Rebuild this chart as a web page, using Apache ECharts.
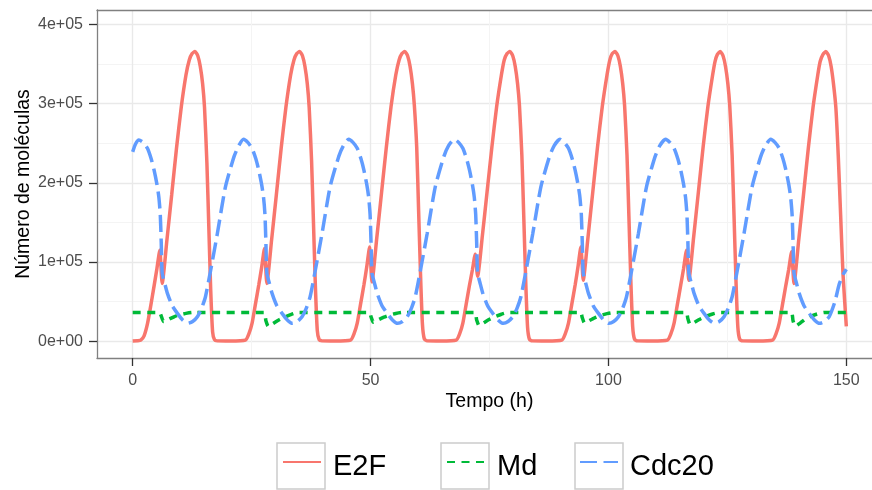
<!DOCTYPE html>
<html><head><meta charset="utf-8">
<script src="https://cdn.jsdelivr.net/npm/echarts@6/dist/echarts.min.js"></script>
<style>html,body{margin:0;padding:0;background:#fff}#c{width:872px;height:490px}</style>
</head><body><div id="c"></div>
<script>
const seriesNames = ['E2F', 'Md', 'Cdc20'];
const seriesColors = ['#F8766D', '#00BA38', '#619CFF'];
const xTickValues = [0, 50, 100, 150];
const xMinorValues = [25, 75, 125];
const yTickValues = [0, 100000, 200000, 300000, 400000];
const yTickLabels = ['0e+00', '1e+05', '2e+05', '3e+05', '4e+05'];
const yMinorValues = [50000, 150000, 250000, 350000];

// [tempo (h), número de moléculas]
const e2f = [
[0,500],[1.0,800],
[1.7,1500],[2.4,7000],[3.1,22000],[3.8,45000],[4.5,70000],[5.1,92000],[5.7,115000],[6.2,73000],[7.2,128000],[8.2,185000],[9.2,243000],[10.2,295000],[11.2,336000],[11.9,355000],[12.5,363000],[13.1,365500],[13.7,360000],[14.2,347000],[14.7,325000],[15.1,295000],[15.6,225000],[16.0,145000],[16.4,65000],[16.8,12000],[17.2,2000],[17.8,600],[20.5,400],
[23.7,1500],[24.4,9000],[25.1,23000],[25.8,47000],[26.5,71000],[27.1,93000],[27.7,117000],[28.2,73000],[29.2,128000],[30.2,185000],[31.2,243000],[32.2,295000],[33.2,336000],[33.9,355000],[34.5,363000],[35.1,365500],[35.7,360000],[36.2,347000],[36.7,325000],[37.1,295000],[37.6,228000],[38.0,150000],[38.4,70000],[38.8,14000],[39.2,2000],[39.8,600],[42.5,400],
[45.8,1500],[46.5,9000],[47.2,23000],[47.9,47000],[48.6,71000],[49.2,94000],[49.8,119000],[50.3,75000],[51.3,130000],[52.3,187000],[53.3,244000],[54.3,296000],[55.3,336000],[56.0,355000],[56.6,363000],[57.2,365500],[57.8,360000],[58.3,347000],[58.8,325000],[59.2,298000],[59.7,245000],[60.1,165000],[60.5,85000],[60.9,22000],[61.3,3000],[61.9,600],[64.8,400],
[68.0,1500],[68.7,9000],[69.4,23000],[70.1,47000],[70.8,71000],[71.4,90000],[72.0,110000],[72.5,82000],[73.5,133000],[74.5,189000],[75.5,245000],[76.5,296000],[77.5,336000],[78.1,355000],[78.7,363000],[79.3,365500],[79.9,360000],[80.4,347000],[80.9,325000],[81.3,297000],[81.8,235000],[82.2,158000],[82.6,78000],[83.0,18000],[83.4,2500],[84.0,600],[87.0,400],
[90.2,1500],[90.9,9000],[91.6,23000],[92.3,47000],[93.0,71000],[93.6,94000],[94.2,119000],[94.7,77000],[95.7,131000],[96.7,188000],[97.7,245000],[98.7,296000],[99.7,336000],[100.3,355000],[100.8,363000],[101.4,365500],[102.0,360000],[102.5,347000],[103.0,325000],[103.4,297000],[103.9,235000],[104.3,158000],[104.7,78000],[105.1,18000],[105.5,2500],[106.1,600],[109.2,400],
[112.4,1500],[113.1,9000],[113.8,23000],[114.5,47000],[115.2,71000],[115.8,92000],[116.4,115000],[116.9,77000],[117.9,131000],[118.9,188000],[119.9,245000],[120.9,296000],[121.9,336000],[122.4,353000],[122.9,362000],[123.5,365500],[124.1,360000],[124.6,347000],[125.1,325000],[125.5,297000],[126.0,235000],[126.4,158000],[126.8,78000],[127.2,18000],[127.6,2500],[128.2,600],[131.3,400],
[134.5,1500],[135.2,9000],[135.9,23000],[136.6,47000],[137.3,71000],[137.9,91000],[138.5,113000],[139.0,73000],[140.0,128000],[141.0,185000],[142.0,243000],[143.0,295000],[144.0,336000],[144.5,353000],[145.1,362000],[145.7,365500],[146.3,360000],[146.8,347000],[147.3,325000],[147.8,295000],[148.3,235000],[148.8,160000],[149.3,85000],[150.0,19000]
];

const md = [
[0,36500],[5.6,36500],[6.0,32000],[6.5,25000],[7.5,27500],[8.7,31000],[9.9,33500],[11.2,35300],[12.7,36500],
[27.6,36500],[28.0,26000],[28.5,19000],[29.5,22500],[30.7,27000],[31.9,30500],[33.2,33800],[34.7,36500],
[49.7,36500],[50.1,31000],[50.6,24000],[51.6,27000],[52.8,30500],[54.0,33200],[55.3,35200],[56.8,36500],
[71.9,36500],[72.3,27000],[72.8,20000],[73.8,23500],[75.0,27800],[76.2,31200],[77.5,34200],[79.0,36500],
[94.1,36500],[94.5,30000],[95.0,23000],[96.0,26300],[97.2,30000],[98.4,32800],[99.7,35000],[101.2,36500],
[116.3,36500],[116.7,28500],[117.2,21000],[118.2,24500],[119.4,28500],[120.6,31800],[121.9,34500],[123.4,36500],
[138.4,36500],[138.8,26000],[139.3,19000],[140.3,23000],[141.5,28500],[142.7,32000],[144.0,34800],[145.5,36500],
[150,36500]
];

const cdc20 = [
[0,239000],[0.6,249000],[1.3,254000],[2.2,251000],[3.1,243500],[3.9,230000],[4.5,216000],[5.1,198000],[5.5,182000],[5.8,160000],[6.0,125000],[6.2,86000],
[6.7,74000],[7.3,60500],[8.3,45000],[9.4,35300],[10.5,27000],[11.6,22700],[12.6,25000],[13.6,31000],[14.5,42000],[15.3,56300],[16.4,90000],[17.8,136000],[19.5,195000],[21.3,233000],[22.3,247000],[23.3,255000],[24.2,251000],[25.1,243500],[25.9,230000],[26.5,216000],[27.1,198000],[27.5,182000],[27.8,160000],[28.0,125000],[28.2,86000],
[28.7,74000],[29.3,60500],[30.3,45000],[31.4,35300],[32.5,27000],[33.6,22700],[34.6,25000],[35.6,31000],[36.5,42000],[37.3,56300],[38.4,90000],[39.8,136000],[41.5,195000],[43.3,233000],[44.3,247000],[45.4,255000],[46.3,251000],[47.2,243500],[48.0,230000],[48.6,216000],[49.2,198000],[49.6,182000],[49.9,160000],[50.1,125000],[50.3,86000],
[50.8,74000],[51.4,60500],[52.4,45000],[53.5,35300],[54.6,27000],[55.7,22700],[56.7,25000],[57.7,31000],[58.6,42000],[59.4,56300],[60.5,90000],[61.9,136000],[63.6,195000],[65.4,233000],[66.4,247000],[67.6,255000],[68.5,251000],[69.4,243500],[70.2,230000],[70.8,216000],[71.4,198000],[71.8,182000],[72.1,160000],[72.3,125000],[72.5,86000],
[73.0,74000],[73.6,60500],[74.6,45000],[75.7,35300],[76.8,27000],[77.9,22700],[78.9,25000],[79.9,31000],[80.8,42000],[81.6,56300],[82.7,90000],[84.1,136000],[85.8,195000],[87.6,233000],[88.6,247000],[89.8,255000],[90.7,251000],[91.6,243500],[92.4,230000],[93.0,216000],[93.6,198000],[94.0,182000],[94.3,160000],[94.5,125000],[94.7,86000],
[95.2,74000],[95.8,60500],[96.8,45000],[97.9,35300],[99.0,27000],[100.1,22700],[101.1,25000],[102.1,31000],[103.0,42000],[103.8,56300],[104.9,90000],[106.3,136000],[108.0,195000],[109.8,233000],[110.8,247000],[112.0,255000],[112.9,251000],[113.8,243500],[114.6,230000],[115.2,216000],[115.8,198000],[116.2,182000],[116.5,160000],[116.7,125000],[116.9,86000],
[117.4,74000],[118.0,60500],[119.0,45000],[120.1,35300],[121.2,27000],[122.3,22700],[123.3,25000],[124.3,31000],[125.2,42000],[126.0,56300],[127.1,90000],[128.5,136000],[130.2,195000],[132.0,233000],[133.0,247000],[134.1,255000],[135.0,251000],[135.9,243500],[136.7,230000],[137.3,216000],[137.9,198000],[138.3,182000],[138.6,160000],[138.8,125000],[139.0,86000],
[139.5,74000],[140.1,60500],[141.1,45000],[142.2,35300],[143.3,27000],[144.4,22700],[145.4,25000],[146.4,31000],[147.6,50000],[148.5,72000],[149.3,84000],[150.0,91000]
];

const FONT = '"Liberation Sans", Arial, Helvetica, sans-serif';
const BORDER = {show: true, onZero: false, lineStyle: {color: '#808080', width: 1.3}};
const NOLINE = {show: false, onZero: false};
const chart = echarts.init(document.getElementById('c'), null, {renderer: 'canvas'});

function legendAt(name, left) {
  return {
    data: [name], left: left, top: 443, orient: 'horizontal', padding: 0,
    itemWidth: 38, itemHeight: 46, selectedMode: false,
    itemStyle: {opacity: 0},
    formatter: nm => '{t|' + nm + '}',
    textStyle: {fontFamily: FONT, fontSize: 29, color: '#000',
      rich: {t: {fontFamily: FONT, fontSize: 29, color: '#000', lineHeight: 30, padding: [9, 0, 0, 7]}}}
  };
}

const dashes = [null, [8, 6.5], [17, 6.5]];
const dataSets = [e2f, md, cdc20];

chart.setOption({
  animation: false,
  backgroundColor: '#fff',
  grid: {left: 97, right: -10, top: 10, bottom: 132, show: false, outerBoundsMode: 'none', containLabel: false},
  xAxis: [{
    type: 'value', min: -7.5, max: 157.5, position: 'bottom',
    axisLine: BORDER,
    axisTick: {show: true, customValues: xTickValues, length: 8, lineStyle: {color: '#333', width: 1.3}},
    axisLabel: {customValues: xTickValues, margin: 15, fontSize: 16, color: '#4d4d4d', fontFamily: FONT},
    splitLine: {show: true, lineStyle: {color: '#e9e9e9', width: 1.4}},
    name: 'Tempo (h)', nameLocation: 'middle', nameGap: 34, nameMoveOverlap: false,
    nameTextStyle: {fontSize: 19.5, color: '#000', fontFamily: FONT}
  }, {
    type: 'value', min: -7.5, max: 157.5, position: 'top',
    axisLine: BORDER,
    axisTick: {show: false, length: 0, customValues: xMinorValues},
    axisLabel: {show: false, customValues: xMinorValues},
    splitLine: {show: true, lineStyle: {color: '#f4f4f4', width: 1}}
  }],
  yAxis: [{
    type: 'value', min: -21000, max: 418000, position: 'left',
    axisLine: BORDER,
    axisTick: {show: true, customValues: yTickValues, length: 8, lineStyle: {color: '#333', width: 1.3}},
    axisLabel: {customValues: yTickValues, margin: 14, fontSize: 16, color: '#4d4d4d', fontFamily: FONT,
      formatter: v => yTickLabels[yTickValues.indexOf(v)]},
    splitLine: {show: true, lineStyle: {color: '#e9e9e9', width: 1.4}},
    name: 'Número de moléculas', nameLocation: 'middle', nameGap: 63, nameMoveOverlap: false,
    nameTextStyle: {fontSize: 19.5, color: '#000', fontFamily: FONT}
  }, {
    type: 'value', min: -21000, max: 418000, position: 'right',
    axisLine: NOLINE,
    axisTick: {show: false, length: 0, customValues: yMinorValues},
    axisLabel: {show: false, customValues: yMinorValues},
    splitLine: {show: true, lineStyle: {color: '#f4f4f4', width: 1}}
  }],
  legend: [legendAt('E2F', 282), legendAt('Md', 446), legendAt('Cdc20', 579)],
  graphic: [
    {type: 'rect', shape: {x: 277, y: 443, width: 48, height: 46}, style: {fill: '#fff', stroke: '#cccccc', lineWidth: 1.5}, z: 0},
    {type: 'rect', shape: {x: 441, y: 443, width: 48, height: 46}, style: {fill: '#fff', stroke: '#cccccc', lineWidth: 1.5}, z: 0},
    {type: 'rect', shape: {x: 575, y: 443, width: 48, height: 46}, style: {fill: '#fff', stroke: '#cccccc', lineWidth: 1.5}, z: 0}
  ],
  series: seriesNames.map((n, i) => ({
    name: n, type: 'line', data: dataSets[i], xAxisIndex: 0, yAxisIndex: 0,
    symbol: 'none', showSymbol: false, smooth: 0.2, clip: true,
    lineStyle: {color: seriesColors[i], width: 3.5, type: dashes[i] || 'solid', cap: 'butt'},
    itemStyle: {color: seriesColors[i]}
  }))
});
</script></body></html>
